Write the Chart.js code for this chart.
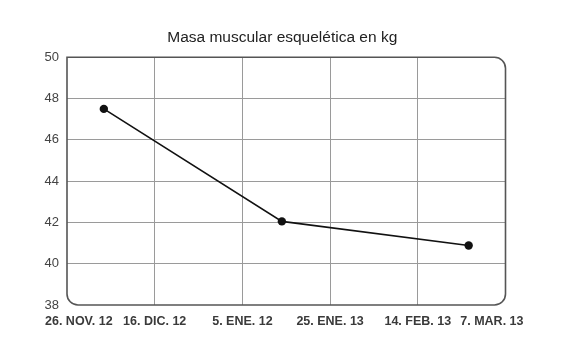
<!DOCTYPE html>
<html>
<head>
<meta charset="utf-8">
<script src="https://cdn.jsdelivr.net/npm/chart.js@4/dist/chart.umd.min.js"></script>
<style>
  html, body { margin: 0; padding: 0; background: #fff; }
  #wrap { width: 570px; height: 360px; }
</style>
</head>
<body>
<div id="wrap"><canvas id="c" width="570" height="360"></canvas></div>
<script>
// Data
const titleText = 'Masa muscular esquelética en kg';
const xTickLabels = ['26. NOV. 12', '16. DIC. 12', '5. ENE. 12', '25. ENE. 13', '14. FEB. 13', '7. MAR. 13'];
const pointPositions = [0.42, 2.45, 4.58];   // position along the date axis (tick index units)
const massValues = [47.5, 42.05, 40.88];
const yMin = 38, yMax = 50, yStep = 2;

const FONT = '"Liberation Sans", Arial, sans-serif';

const titlePlugin = {
  id: 'centredTitle',
  afterDraw(chart) {
    const { ctx, chartArea: a } = chart;
    ctx.save();
    ctx.font = '15.5px ' + FONT;
    ctx.fillStyle = '#222';
    ctx.textAlign = 'center';
    ctx.textBaseline = 'middle';
    ctx.fillText(titleText, (a.left + a.right) / 2 - 4, 38);
    ctx.restore();
  }
};

const borderPlugin = {
  id: 'roundBorder',
  afterDatasetsDraw(chart) {
    const { ctx, chartArea: a } = chart;
    ctx.save();
    ctx.strokeStyle = '#555';
    ctx.lineWidth = 1.6;
    ctx.beginPath();
    ctx.roundRect(a.left, a.top, a.right - a.left, a.bottom - a.top, [0, 11, 11, 11]);
    ctx.stroke();
    ctx.restore();
  }
};

const xLabelPlugin = {
  id: 'xLabels',
  afterDraw(chart) {
    const { ctx } = chart;
    const xs = chart.scales.x;
    ctx.save();
    ctx.font = 'bold 12.5px ' + FONT;
    ctx.fillStyle = '#3a3a3a';
    ctx.textBaseline = 'middle';
    const y = chart.chartArea.bottom + 17;
    xTickLabels.forEach((lab, i) => {
      const x = xs.getPixelForValue(i);
      if (i === 0) { ctx.textAlign = 'left'; ctx.fillText(lab, x - 22, y); }
      else if (i === xTickLabels.length - 1) { ctx.textAlign = 'right'; ctx.fillText(lab, x + 18, y); }
      else { ctx.textAlign = 'center'; ctx.fillText(lab, x, y); }
    });
    ctx.restore();
  }
};

new Chart(document.getElementById('c'), {
  type: 'line',
  data: {
    datasets: [{
      data: pointPositions.map((x, i) => ({ x, y: massValues[i] })),
      borderColor: '#111',
      backgroundColor: '#111',
      borderWidth: 1.6,
      pointRadius: 4.2,
      pointBackgroundColor: '#111',
      pointBorderWidth: 0,
      tension: 0,
      clip: false
    }]
  },
  options: {
    responsive: false,
    animation: false,
    devicePixelRatio: 1,
    layout: { padding: { left: 0, right: 64.5, top: 57.3, bottom: 0 } },
    plugins: {
      legend: { display: false },
      tooltip: { enabled: false },
      title: { display: false }
    },
    scales: {
      x: {
        type: 'linear',
        min: 0,
        max: xTickLabels.length - 1,
        afterBuildTicks(s) { s.ticks = xTickLabels.map((_, i) => ({ value: i })); },
        afterFit(s) { s.height = 55; },
        border: { display: false },
        grid: {
          drawTicks: false,
          color: c => (c.index === 0 || c.index === xTickLabels.length - 1) ? 'rgba(0,0,0,0)' : '#9a9a9a',
          lineWidth: 1
        },
        ticks: {
          color: 'rgba(0,0,0,0)',
          callback: (v, i) => xTickLabels[i],
          font: { family: FONT, size: 12.5, weight: 'bold' },
          maxRotation: 0,
          autoSkip: false
        }
      },
      y: {
        min: yMin,
        max: yMax,
        afterFit(s) { s.width = 67; },
        border: { display: false },
        grid: {
          drawTicks: false,
          color: c => (c.tick && (c.tick.value === yMin || c.tick.value === yMax)) ? 'rgba(0,0,0,0)' : '#9a9a9a',
          lineWidth: 1
        },
        ticks: {
          stepSize: yStep,
          padding: 8,
          color: '#444',
          font: { family: FONT, size: 13 }
        }
      }
    }
  },
  plugins: [titlePlugin, borderPlugin, xLabelPlugin]
});
</script>
</body>
</html>
